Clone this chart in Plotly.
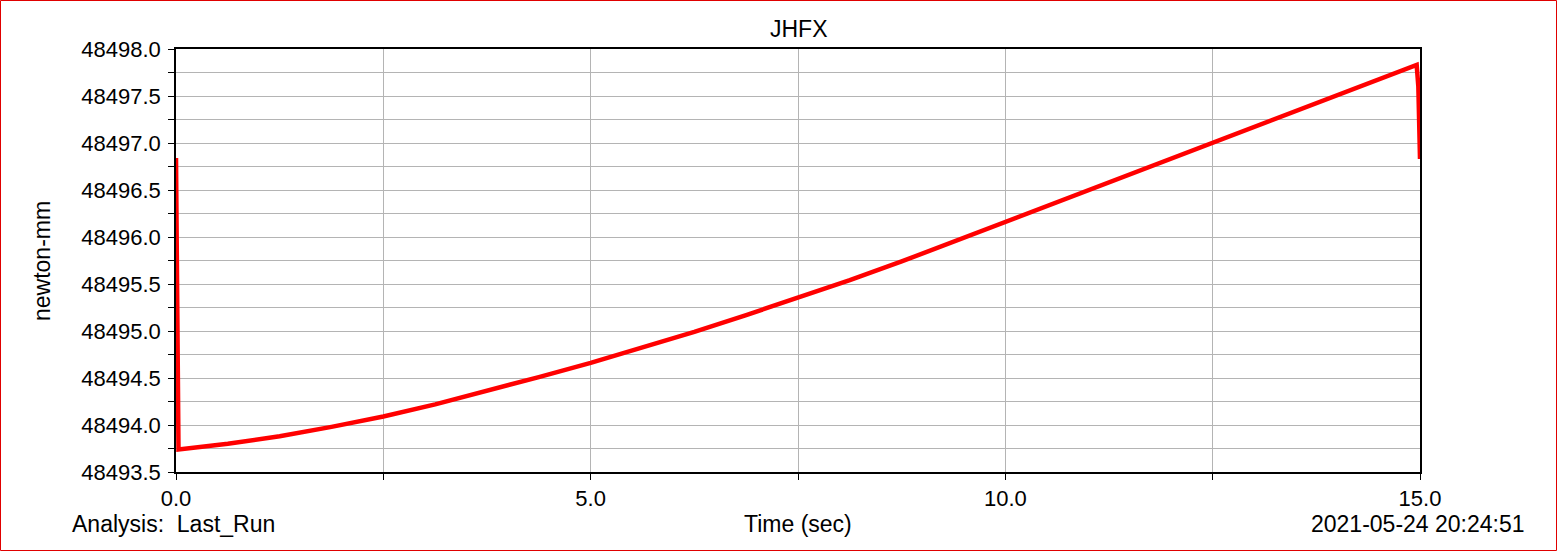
import plotly.graph_objects as go

# Data
time_sec = [0.0, 0.01, 0.02, 0.03, 0.625, 1.25, 1.875, 2.5, 3.125, 3.75, 4.375,
            5.0, 5.625, 6.25, 6.875, 7.5, 8.125, 8.75, 9.375, 10.0, 10.625,
            11.25, 11.875, 12.5, 13.125, 13.75, 14.375, 14.96, 14.98, 14.99, 15.0]
jhfx = [48496.84, 48495.30, 48494.00, 48493.74, 48493.80, 48493.88, 48493.98,
        48494.09, 48494.22, 48494.36, 48494.51, 48494.66, 48494.82, 48494.99,
        48495.17, 48495.35, 48495.54, 48495.74, 48495.95, 48496.16, 48496.37,
        48496.58, 48496.79, 48497.00, 48497.21, 48497.42, 48497.63, 48497.83,
        48497.60, 48497.07, 48496.83]

x_ticks = [0.0, 5.0, 10.0, 15.0]
x_tick_labels = ["0.0", "5.0", "10.0", "15.0"]
y_ticks = [48493.5, 48494.0, 48494.5, 48495.0, 48495.5, 48496.0, 48496.5,
           48497.0, 48497.5, 48498.0]
y_tick_labels = [f"{v:.1f}" for v in y_ticks]

W, H = 1557, 551
L, R, T, B = 176, 137, 49, 79
pw, ph = W - L - R, H - T - B

FONT = "Liberation Sans, Arial, sans-serif"
FS = 22
FS_TXT = 23
GRID = "#b4b4b4"

fig = go.Figure()
fig.add_trace(go.Scatter(x=time_sec, y=jhfx, mode="lines",
                         line=dict(color="#ff0000", width=4.5), showlegend=False,
                         hoverinfo="skip"))

axis_common = dict(showline=True, linecolor="black", linewidth=1.5, mirror=True,
                   ticks="outside", tickcolor="black", ticklen=6, tickwidth=1,
                   showgrid=True, gridcolor=GRID, gridwidth=1, zeroline=False,
                   tickfont=dict(family=FONT, size=FS, color="black"))

fig.update_layout(
    width=W, height=H,
    margin=dict(l=L, r=R, t=T, b=B, pad=0),
    paper_bgcolor="white", plot_bgcolor="white",
    font=dict(family=FONT, size=FS, color="black"),
    xaxis=dict(range=[0, 15], tickvals=x_ticks, ticktext=x_tick_labels,
               minor=dict(dtick=2.5, tick0=0, ticks="outside", ticklen=6,
                          tickcolor="black", showgrid=True, gridcolor=GRID),
               **axis_common),
    yaxis=dict(range=[48493.5, 48498.0], tickvals=y_ticks, ticktext=y_tick_labels,
               ticklabelstandoff=3,
               minor=dict(dtick=0.25, tick0=48493.5, ticks="outside", ticklen=6,
                          tickcolor="black", showgrid=True, gridcolor=GRID),
               **axis_common),
)

def px_x(p):
    return (p - L) / pw

def px_y(p):
    return (H - B - p) / ph

annotations = [
    dict(text="JHFX", x=px_x(799), y=px_y(29), xanchor="center", yanchor="middle"),
    dict(text="newton-mm", x=px_x(42), y=px_y(261), xanchor="center",
         yanchor="middle", textangle=-90),
    dict(text="Time (sec)", x=px_x(798), y=px_y(524), xanchor="center", yanchor="middle"),
    dict(text="Analysis:\u00a0\u00a0Last_Run", x=px_x(70), y=px_y(524), xanchor="left",
         yanchor="middle"),
    dict(text="2021-05-24 20:24:51", x=px_x(1527), y=px_y(524), xanchor="right",
         yanchor="middle"),
]
for a in annotations:
    a.update(xref="paper", yref="paper", showarrow=False,
             font=dict(family=FONT, size=FS_TXT, color="black"))
fig.update_layout(annotations=annotations)

fig.add_shape(type="rect", xref="paper", yref="paper",
              x0=px_x(0.5), x1=px_x(1556.5), y0=px_y(550.5), y1=px_y(0.5),
              line=dict(color="#e00000", width=1), layer="above")

fig.write_html("out.html", config={"displayModeBar": False},
               post_script="document.body.style.margin='0';document.body.style.overflow='hidden';")
